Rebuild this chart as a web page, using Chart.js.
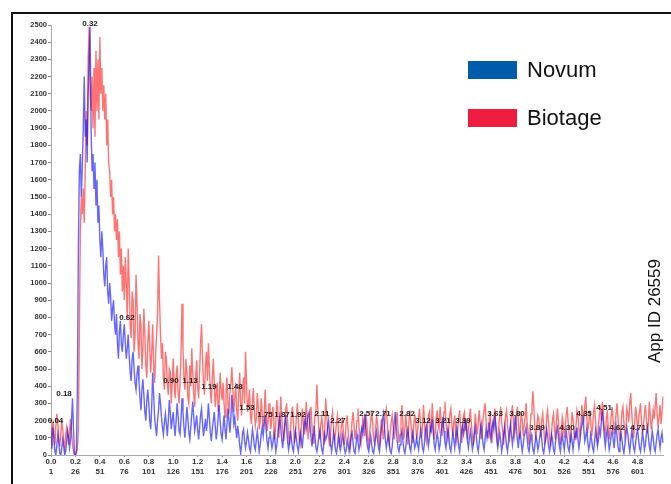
<!DOCTYPE html>
<html><head><meta charset="utf-8">
<script src="https://cdn.jsdelivr.net/npm/chart.js@4/dist/chart.umd.min.js"></script>
<style>html,body{margin:0;padding:0;background:#fff;}canvas{display:block;}</style>
</head><body>
<canvas id="c" width="671" height="484" style="width:671px;height:484px"></canvas>
<script>
// ---------------- DATA ----------------
const seriesNames = ['Novum', 'Biotage'];
const novum = [
40,110,160,90,20,0,60,120,70,10,0,40,90,50,0,20,80,140,100,40,90,200,330,150,10,
0,30,400,1200,1650,1750,1500,1680,1900,2200,1850,1950,1700,2100,2300,2490,1900,1650,1750,1550,1700,1450,1600,1350,1450,
1250,1150,1300,1200,1050,980,1100,1150,950,880,1000,920,780,850,900,760,700,820,650,560,720,780,640,600,700,
760,650,560,620,700,580,480,430,560,600,500,420,380,470,520,430,330,260,380,440,350,250,200,320,380,
300,200,150,280,480,350,220,160,110,200,260,360,300,220,160,120,190,240,180,110,200,320,250,150,200,
250,170,110,200,300,230,140,120,210,330,250,160,100,180,280,210,130,90,160,240,310,220,140,180,230,
150,90,160,230,270,180,110,160,210,140,200,300,220,130,80,150,200,250,170,90,140,220,290,200,120,
90,160,230,150,90,180,270,200,130,220,350,260,180,220,150,100,170,120,60,10,60,130,150,80,40,
80,130,90,40,20,80,150,110,50,30,90,140,80,20,60,120,160,110,170,230,150,80,40,100,140,
90,40,70,130,80,20,60,120,170,220,160,90,40,110,170,230,160,80,30,70,140,90,40,20,80,
140,100,50,20,70,130,90,40,110,180,210,150,190,230,250,170,100,50,120,170,110,40,20,60,110,
140,80,30,10,60,120,90,110,160,200,130,60,20,70,130,90,30,10,50,110,80,30,60,120,90,
40,10,30,90,60,20,50,110,130,70,20,10,60,120,80,30,60,130,160,120,180,240,160,80,40,
20,70,110,60,20,10,50,100,140,90,40,20,80,150,200,240,170,90,40,80,120,70,20,10,50,
120,180,250,170,90,40,20,60,110,140,80,30,10,50,120,150,100,40,20,80,130,90,40,60,100,
60,30,90,140,100,40,20,70,150,170,110,50,90,160,140,210,130,60,30,80,130,90,30,60,140,
170,220,140,70,40,100,150,110,40,20,70,130,90,40,100,160,110,50,20,80,140,170,120,150,210,
150,80,40,100,140,90,30,60,120,160,110,50,20,70,140,180,120,60,30,90,150,100,140,190,130,
90,160,190,150,230,160,80,40,90,130,80,20,60,120,170,110,50,20,80,140,180,120,60,110,170,
230,160,90,40,110,130,70,20,60,110,130,160,100,40,20,70,120,80,30,10,60,110,80,30,60,
110,140,90,30,10,50,100,150,110,50,20,60,120,90,30,10,70,130,160,110,50,20,80,120,70,
30,90,140,90,40,20,70,120,80,30,90,130,100,160,90,40,80,140,170,230,150,80,110,150,80,
30,60,120,90,40,20,80,140,100,50,90,150,120,200,260,180,100,50,110,150,90,30,60,120,140,
90,40,120,170,110,50,20,70,130,90,40,10,60,110,160,120,60,20,80,140,100,40,20,70,120,
150,90,40,20,70,130,90,30,60,120,160,110,50,20,80,140,100,40,20,70,120,150,90,40,100,130,70
];
const biotage = [
60,150,200,120,60,170,240,180,100,50,120,200,150,80,40,110,160,120,60,140,210,130,60,20,0,
0,10,40,150,700,1300,1500,1400,1550,1350,1650,2000,1800,2300,2490,2100,2000,2200,1900,2250,1850,2350,2000,2300,1950,
2430,2100,2250,2000,2150,1950,2100,1800,1950,1700,1650,1500,1600,1400,1500,1300,1400,1250,1370,1150,1300,1050,1200,950,1100,
900,1150,1000,800,1200,1000,750,680,950,900,600,700,1050,880,650,560,820,760,500,620,850,700,520,450,650,
780,620,480,600,760,520,420,580,700,820,1160,900,700,560,650,450,380,600,560,420,350,500,480,300,420,
560,420,330,460,520,360,300,420,600,880,620,450,380,560,480,330,300,520,400,620,470,350,280,460,550,
400,330,480,650,760,560,420,350,520,600,430,650,500,380,300,440,560,420,280,360,420,250,300,480,380,
320,420,300,220,380,450,300,240,360,420,510,380,250,330,420,260,200,350,480,300,230,380,450,300,600,
420,250,300,380,230,180,300,390,260,170,210,360,280,150,200,330,250,160,220,380,260,140,190,300,220,
150,230,280,180,90,200,320,250,100,180,340,220,140,80,150,260,300,200,110,60,150,240,280,180,70,
120,220,300,200,90,60,140,270,200,120,180,310,220,90,150,240,280,160,70,130,230,260,410,250,140,
90,180,220,150,60,150,330,240,140,100,50,130,210,250,160,80,120,190,230,140,60,100,170,220,140,
60,110,190,230,130,80,40,120,200,250,170,90,140,200,270,180,90,60,130,210,170,110,240,190,90,
60,130,200,260,180,90,70,150,230,180,120,50,130,210,150,90,160,240,270,180,100,60,130,190,230,
160,90,140,210,250,150,70,120,220,290,180,90,160,240,130,60,180,260,200,110,70,170,240,190,90,
140,220,270,180,100,160,290,200,120,80,150,230,250,140,170,300,190,90,130,210,260,180,150,280,200,
110,170,250,310,200,130,90,160,240,270,180,110,190,230,120,80,150,210,260,170,70,130,230,250,140,
200,90,150,220,270,180,110,60,140,240,170,120,190,260,180,90,140,210,260,300,200,150,100,170,250,
170,70,150,220,270,180,120,80,160,230,280,190,140,60,150,230,260,170,120,90,160,240,290,200,110,
150,230,280,190,90,160,250,200,110,170,220,300,190,130,60,150,240,280,370,260,150,90,170,230,210,
150,120,200,240,160,70,90,220,260,180,100,50,130,210,240,150,90,190,270,200,110,60,140,220,180,
100,160,230,280,190,120,70,150,250,210,130,90,170,260,230,150,110,180,290,240,200,280,340,220,140,
180,260,200,110,160,250,290,200,130,90,170,240,270,200,310,230,150,120,210,260,160,90,150,230,280,
200,120,170,240,300,210,130,80,160,250,280,190,110,150,270,240,190,300,360,250,150,100,180,280,230,
140,200,250,300,200,120,170,240,290,210,130,180,310,230,150,200,260,210,280,360,240,160,220,290,180,250,340
];
// x tick labels (time row and sample-number row), every 25 samples
const xTimeTicks = ['0.0','0.2','0.4','0.6','0.8','1.0','1.2','1.4','1.6','1.8','2.0','2.2','2.4','2.6','2.8','3.0','3.2','3.4','3.6','3.8','4.0','4.2','4.4','4.6','4.8'];
const xSampleTicks = ['1','26','51','76','101','126','151','176','201','226','251','276','301','326','351','376','401','426','451','476','501','526','551','576','601'];
// y ticks
const yMin = 0, yMax = 2500, yStep = 100;
// peak annotations: text, sample position, value height
const peakText = ['0.04','0.18','0.32','0.62','0.90','1.13','1.19','1.48','1.53','1.75','1.87','1.92','2.11','2.27','2.57','2.71','2.82','3.12','3.21','3.39','3.63','3.80','3.89','4.30','4.35','4.51','4.62','4.71'];
const peakPos  = [5.6,14.3,40.9,78.7,123.7,143.2,162.6,189.2,201.5,219.9,237.3,253.7,278.2,294.6,324.2,340.6,365.2,381.5,402.0,422.4,455.2,477.7,498.1,528.8,546.2,566.7,580.0,601.5];
const peakVal  = [198,355,2506,797,430,430,395,395,273,233,233,233,238,198,238,238,238,198,198,198,238,238,157,157,238,273,157,157];
const appId = 'App ID 26559';

// category labels = sample numbers
const sampleNo = novum.map((_, i) => String(i + 1));

// ---------------- STYLE ----------------
const lineColors = ['rgba(0,0,255,0.6)', 'rgba(255,0,0,0.55)'];
const legendColors = ['#005BAA', '#EE1C3E'];
const tickFontX = {family: "'Liberation Sans Narrow','Liberation Sans',Arial,sans-serif", size: 8, weight: 'bold', lineHeight: 1.25};
const tickFontY = {family: "'Liberation Sans',Arial,sans-serif", size: 7.5, weight: 'bold'};

const decor = {
  id: 'decor',
  afterDatasetsDraw(chart) {
    const {ctx, scales: {x, y}} = chart;
    ctx.save();
    ctx.fillStyle = '#222';
    ctx.font = "bold 8px 'Liberation Sans', Arial, sans-serif";
    ctx.textAlign = 'center';
    ctx.textBaseline = 'middle';
    peakText.forEach((t, k) => {
      ctx.fillText(t, x.getPixelForValue(peakPos[k] - 1), y.getPixelForValue(peakVal[k]));
    });
    ctx.restore();
  },
  afterDraw(chart) {
    const {ctx} = chart;
    ctx.save();
    // frame
    ctx.fillStyle = '#111';
    ctx.fillRect(11, 12, 660, 2);
    ctx.fillRect(11, 12, 2, 472);
    // legend
    ctx.font = "22px 'Liberation Sans', Arial, sans-serif";
    ctx.textBaseline = 'middle';
    ctx.textAlign = 'left';
    const ly = [61, 109];
    seriesNames.forEach((n, k) => {
      ctx.fillStyle = legendColors[k];
      ctx.fillRect(468, ly[k], 49, 18);
      ctx.fillStyle = '#111';
      ctx.fillText(n, 527, ly[k] + 10);
    });
    // App ID
    ctx.translate(655, 311);
    ctx.rotate(-Math.PI / 2);
    ctx.textAlign = 'center';
    ctx.font = "17px 'Liberation Sans', Arial, sans-serif";
    ctx.fillStyle = '#111';
    ctx.fillText(appId, 0, 0);
    ctx.restore();
  }
};

new Chart(document.getElementById('c'), {
  type: 'line',
  data: {
    labels: sampleNo,
    datasets: [
      {label: seriesNames[0], data: novum, borderColor: lineColors[0], borderWidth: 1.4, pointRadius: 0, tension: 0, order: 0},
      {label: seriesNames[1], data: biotage, borderColor: lineColors[1], borderWidth: 1.4, pointRadius: 0, tension: 0, order: 1}
    ]
  },
  options: {
    responsive: false,
    animation: false,
    layout: {padding: {top: 25, right: 8, left: 0, bottom: 0}},
    plugins: {legend: {display: false}, tooltip: {enabled: false}},
    scales: {
      x: {
        type: 'category',
        grid: {display: true, drawOnChartArea: false, drawTicks: true, tickLength: 2, color: '#888'},
        border: {display: true, color: '#aaa'},
        ticks: {
          autoSkip: false, maxRotation: 0, minRotation: 0, padding: 0, color: '#333', font: tickFontX,
          callback: (v, i) => (i % 25 === 0 && i / 25 < xTimeTicks.length) ? [xTimeTicks[i / 25], xSampleTicks[i / 25]] : null
        },
        afterFit: s => { s.height = 29; }
      },
      y: {
        min: yMin, max: yMax,
        grid: {display: true, drawOnChartArea: false, drawTicks: true, tickLength: 3, color: '#888'},
        border: {display: true, color: '#aaa'},
        ticks: {stepSize: yStep, autoSkip: false, padding: 1, color: '#333', font: tickFontY, callback: v => String(v)},
        afterFit: s => { s.width = 51; }
      }
    }
  },
  plugins: [decor]
});
</script>
</body></html>
